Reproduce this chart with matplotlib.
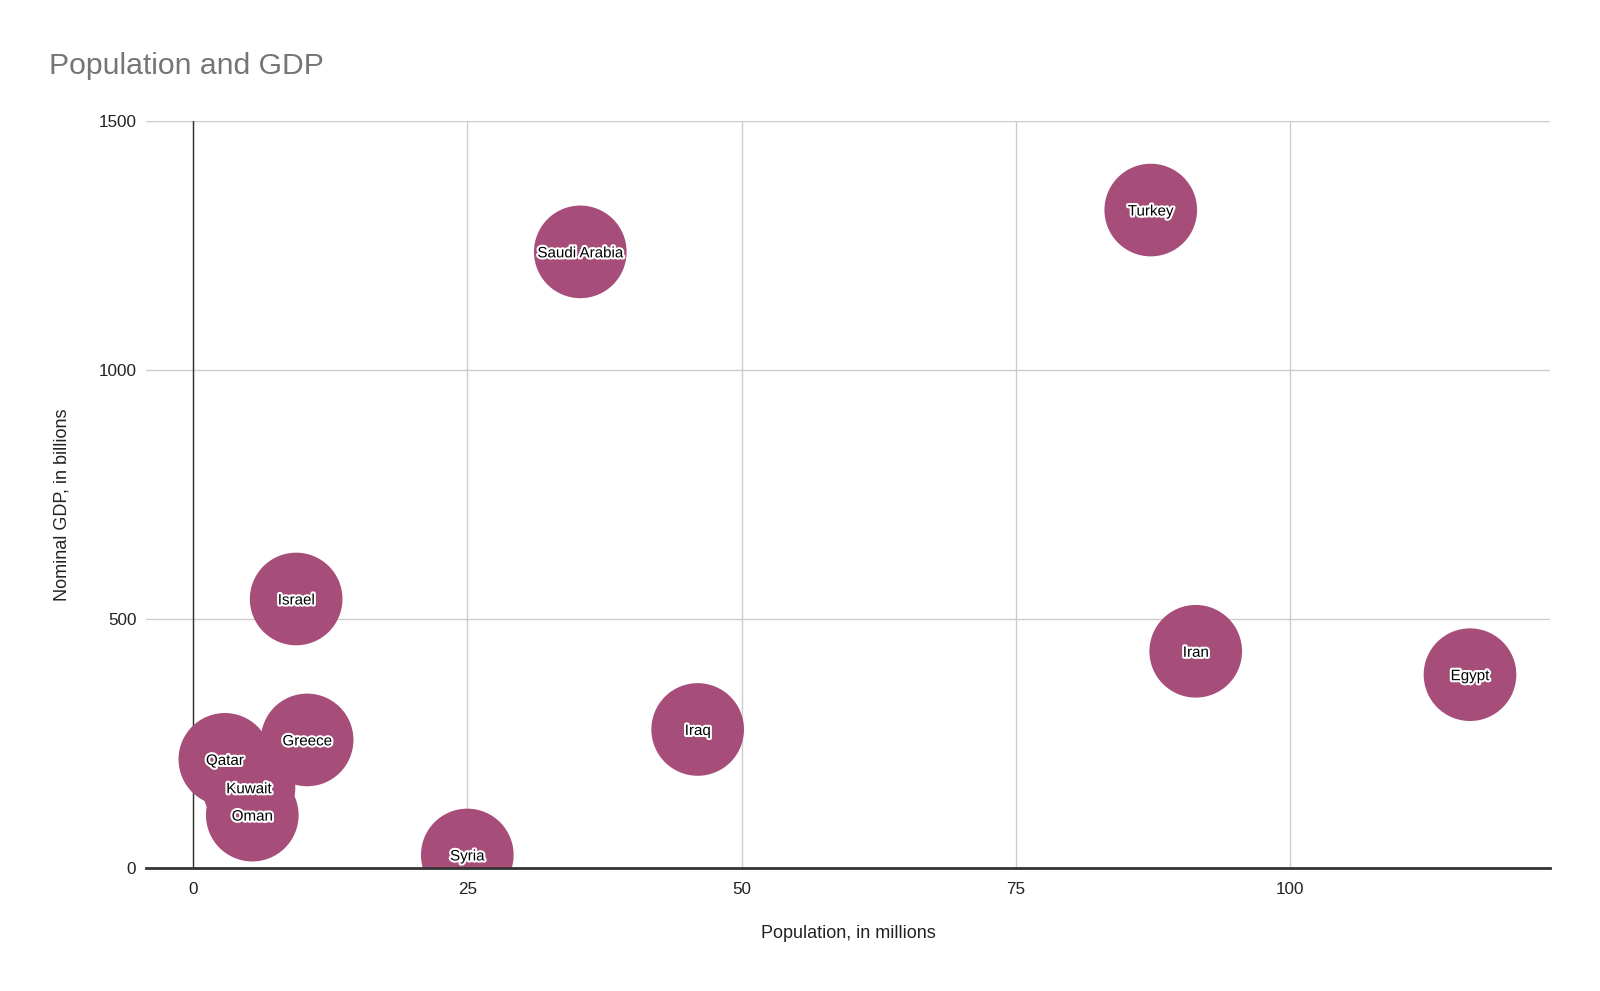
import matplotlib
matplotlib.use("Agg")
import matplotlib.pyplot as plt
import matplotlib.patheffects as pe

# Population (millions) vs nominal GDP (billions)
countries  = ["Turkey", "Saudi Arabia", "Israel", "Iran", "Egypt", "Iraq",
              "Greece", "Qatar", "Kuwait", "Oman", "Syria"]
population = [87.3, 35.3, 9.4, 91.4, 116.4, 46.0, 10.4, 2.9, 5.1, 5.4, 25.0]
gdp        = [1322, 1238, 541, 436, 389, 279, 258, 219, 162, 107, 27]

# draw order so that Kuwait sits under Qatar and Oman, like the reference
draw_order = ["Kuwait", "Qatar", "Oman", "Greece", "Israel", "Syria",
              "Iraq", "Iran", "Egypt", "Saudi Arabia", "Turkey"]

x_ticks = [0, 25, 50, 75, 100]
y_ticks = [0, 500, 1000, 1500]

BUBBLE = "#a64d79"
FONT = ["Liberation Sans", "DejaVu Sans"]
plt.rcParams["font.family"] = FONT

fig = plt.figure(figsize=(16, 9.91), dpi=100)
ax = fig.add_axes([0.0913, 0.1237, 0.8775, 0.7538])

idx = [countries.index(c) for c in draw_order]
ax.scatter([population[i] for i in idx], [gdp[i] for i in idx],
           s=4450, color=BUBBLE, edgecolors="none", zorder=3)

halo = [pe.withStroke(linewidth=3, foreground="white")]
for name, px, gy in zip(countries, population, gdp):
    ax.text(px, gy, name, ha="center", va="center_baseline", fontsize=10.9,
            color="black", zorder=4, path_effects=halo)

ax.set_xlim(-4.28, 123.7)
ax.set_ylim(0, 1500)
ax.set_xticks(x_ticks)
ax.set_yticks(y_ticks)
ax.grid(True, color="#cccccc", linewidth=1.0, zorder=0)
ax.set_axisbelow(True)

# zero baselines
ax.axvline(0, color="#333333", linewidth=1.0, zorder=2)
ax.axhline(0, color="#333333", linewidth=2.0, zorder=5, clip_on=False)

for s in ax.spines.values():
    s.set_visible(False)
ax.tick_params(length=0, labelsize=12.3, colors="#222222")
ax.tick_params(axis="x", pad=9.5)
ax.tick_params(axis="y", pad=7)

fig.text(0.530, 0.058, "Population, in millions", ha="center", va="center",
         fontsize=13, color="#222222")
fig.text(0.0385, 0.491, "Nominal GDP, in billions", ha="center", va="center",
         rotation=90, fontsize=13, color="#222222")
fig.text(0.0306, 0.933, "Population and GDP", ha="left", va="center",
         fontsize=21.7, color="#757575")

fig.savefig("out.png", dpi=100, facecolor="white")
